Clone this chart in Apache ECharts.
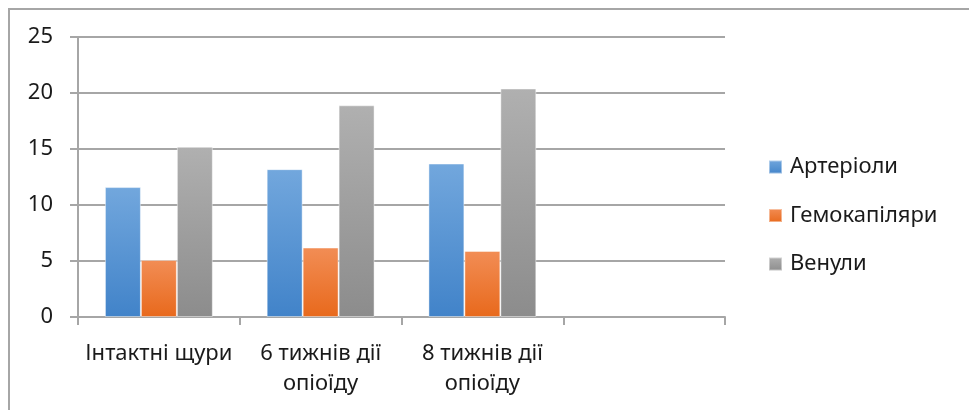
<!DOCTYPE html>
<html>
<head>
<meta charset="utf-8">
<script src="https://cdn.jsdelivr.net/npm/echarts@6/dist/echarts.min.js"></script>
<style>
  html, body { margin: 0; padding: 0; background: #fff; }
  #chart { width: 969px; height: 410px; }
</style>
</head>
<body>
<div id="chart"></div>
<script>
// Categories (the last slot is an empty group, as in the original sheet)
const categories = ['Інтактні щури', '6 тижнів дії\nопіоїду', '8 тижнів дії\nопіоїду', ''];

// Vessel measurements per group
const arterioles = [11.6, 13.2, 13.7, null];
const hemocapillaries = [5.1, 6.2, 5.9, null];
const venules = [15.2, 18.9, 20.4, null];

const seriesNames = ['Артеріоли', 'Гемокапіляри', 'Венули'];

const FONT = '"Noto Sans", Lato, sans-serif';
const TEXT = '#1a1a1a';

function grad(top, bottom) {
  return new echarts.graphic.LinearGradient(0, 0, 0, 1, [
    { offset: 0, color: top },
    { offset: 1, color: bottom }
  ]);
}

const palette = [
  grad('#72a7dd', '#4183c9'),
  grad('#f28d55', '#e8691c'),
  grad('#b0b0b0', '#8c8c8c')
];

const chart = echarts.init(document.getElementById('chart'), null, { renderer: 'canvas' });

const barSeries = [arterioles, hemocapillaries, venules].map((vals, i) => ({
  name: seriesNames[i],
  type: 'bar',
  data: vals,
  barGap: '0%',
  barCategoryGap: '33.3%',
  itemStyle: {
    color: palette[i],
    borderColor: 'rgba(255,255,255,0.45)',
    borderWidth: 1
  }
}));

chart.setOption({
  animation: false,
  textStyle: { fontFamily: FONT },
  graphic: [{
    type: 'polyline',
    silent: true,
    shape: { points: [[9, 420], [9, 9], [980, 9]] },
    style: { stroke: '#a6a6a6', lineWidth: 2, fill: null }
  }],
  grid: { left: 78, right: 244, top: 37, bottom: 93 },
  legend: {
    orient: 'vertical',
    left: 768,
    top: 155,
    padding: 0,
    itemWidth: 13,
    itemHeight: 13,
    itemGap: 24.5,
    icon: 'rect',
    textStyle: { fontFamily: FONT, fontSize: 22, color: TEXT, lineHeight: 24, padding: [0, 0, 0, 3] },
    data: seriesNames
  },
  xAxis: {
    type: 'category',
    data: categories,
    axisLine: { show: true, lineStyle: { color: '#a6a6a6', width: 2 } },
    axisTick: { show: true, length: 8, lineStyle: { color: '#a6a6a6', width: 2 } },
    axisLabel: {
      interval: 0,
      margin: 22,
      fontFamily: FONT,
      fontSize: 22,
      color: TEXT,
      lineHeight: 30
    }
  },
  yAxis: {
    type: 'value',
    min: 0,
    max: 25,
    interval: 5,
    axisLine: { show: true, lineStyle: { color: '#a6a6a6', width: 2 } },
    axisTick: { show: true, length: 8, lineStyle: { color: '#a6a6a6', width: 2 } },
    splitLine: { show: true, lineStyle: { color: '#a6a6a6', width: 2 } },
    axisLabel: {
      margin: 25,
      fontFamily: FONT,
      fontSize: 22,
      color: TEXT
    }
  },
  series: barSeries
});
</script>
</body>
</html>
